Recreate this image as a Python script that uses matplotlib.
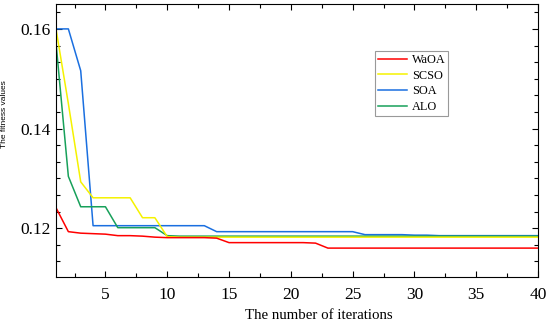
import matplotlib
matplotlib.use("Agg")
import matplotlib.pyplot as plt
from matplotlib.ticker import MultipleLocator, AutoMinorLocator

# iterations
it = list(range(1, 41))

# fitness curves
waoa = [0.1241, 0.1193, 0.1190, 0.1189, 0.1188, 0.1185, 0.1185, 0.1184, 0.1182, 0.1181,
        0.1181, 0.1181, 0.1181, 0.1180, 0.1171, 0.1171, 0.1171, 0.1171, 0.1171, 0.1171,
        0.1171, 0.1170, 0.1160, 0.1160, 0.1160, 0.1160, 0.1160, 0.1160, 0.1160, 0.1160,
        0.1160, 0.1160, 0.1160, 0.1160, 0.1160, 0.1160, 0.1160, 0.1160, 0.1160, 0.1160]
scso = [0.1600, 0.1450, 0.1293, 0.1261, 0.1261, 0.1261, 0.1261, 0.1221, 0.1221, 0.1183,
        0.1182, 0.1182, 0.1182, 0.1182, 0.1182, 0.1182, 0.1182, 0.1182, 0.1182, 0.1182,
        0.1182, 0.1182, 0.1182, 0.1182, 0.1182, 0.1182, 0.1182, 0.1182, 0.1182, 0.1182,
        0.1182, 0.1182, 0.1182, 0.1182, 0.1182, 0.1182, 0.1182, 0.1182, 0.1182, 0.1182]
soa = [0.1600, 0.1600, 0.1516, 0.1205, 0.1205, 0.1205, 0.1205, 0.1205, 0.1205, 0.1205,
       0.1205, 0.1205, 0.1205, 0.1193, 0.1193, 0.1193, 0.1193, 0.1193, 0.1193, 0.1193,
       0.1193, 0.1193, 0.1193, 0.1193, 0.1193, 0.1187, 0.1187, 0.1187, 0.1187, 0.1186,
       0.1186, 0.1185, 0.1185, 0.1185, 0.1185, 0.1185, 0.1185, 0.1185, 0.1185, 0.1185]
alo = [0.1572, 0.1304, 0.1243, 0.1243, 0.1243, 0.1201, 0.1201, 0.1201, 0.1201, 0.1185,
       0.1184, 0.1184, 0.1184, 0.1184, 0.1184, 0.1184, 0.1184, 0.1184, 0.1184, 0.1184,
       0.1184, 0.1184, 0.1184, 0.1184, 0.1184, 0.1184, 0.1184, 0.1184, 0.1184, 0.1184,
       0.1184, 0.1184, 0.1184, 0.1184, 0.1184, 0.1184, 0.1184, 0.1184, 0.1184, 0.1184]

fig = plt.figure(figsize=(5.5, 3.28), dpi=100)
ax = fig.add_axes([56/550, 1 - 277/328, (538 - 56)/550, (277 - 4)/328])

ax.plot(it, soa, color="#1a6fe0", lw=1.1, label="SOA")
ax.plot(it, alo, color="#17a05a", lw=1.1, label="ALO")
ax.plot(it, scso, color="#f5f200", lw=1.1, label="SCSO")
ax.plot(it, waoa, color="#ff0000", lw=1.1, label="WaOA")

ax.set_xlim(1, 40)
ax.set_ylim(0.1102, 0.165)
ax.xaxis.set_major_locator(MultipleLocator(5))
ax.xaxis.set_minor_locator(AutoMinorLocator(2))
ax.yaxis.set_major_locator(MultipleLocator(0.02))
ax.yaxis.set_minor_locator(AutoMinorLocator(6))
ax.tick_params(which="both", direction="in", top=True, right=True, width=0.8)
ax.tick_params(which="major", length=4.5, labelsize=12.5)
ax.tick_params(axis="x", which="major", pad=7)
ax.tick_params(axis="y", which="major", pad=4)
ax.tick_params(which="minor", length=3)
for lab in ax.get_xticklabels() + ax.get_yticklabels():
    lab.set_fontfamily("Liberation Serif")
for s in ax.spines.values():
    s.set_linewidth(0.8)

ax.set_xlabel("The number of iterations", fontfamily="Liberation Serif", fontsize=10.7)
ax.xaxis.set_label_coords((319 - 56)/482, -0.117)
ax.set_ylabel("The fitness values", fontfamily="Liberation Sans", fontsize=6.0)
ax.yaxis.set_label_coords(-0.1, 0.597)

h, l = ax.get_legend_handles_labels()
order = [3, 2, 0, 1]
leg = ax.legend([h[i] for i in order], [l[i] for i in order],
                loc="upper left", bbox_to_anchor=((375 - 56)/482, 1 - (51 - 4)/273),
                borderaxespad=0,
                prop={"family": "Liberation Serif", "size": 8.8},
                frameon=True, fancybox=False, edgecolor="#808080",
                handlelength=2.4, labelspacing=0.3, borderpad=0.25, handletextpad=0.35)
leg.get_frame().set_linewidth(0.8)

fig.savefig("out.png", dpi=100)
